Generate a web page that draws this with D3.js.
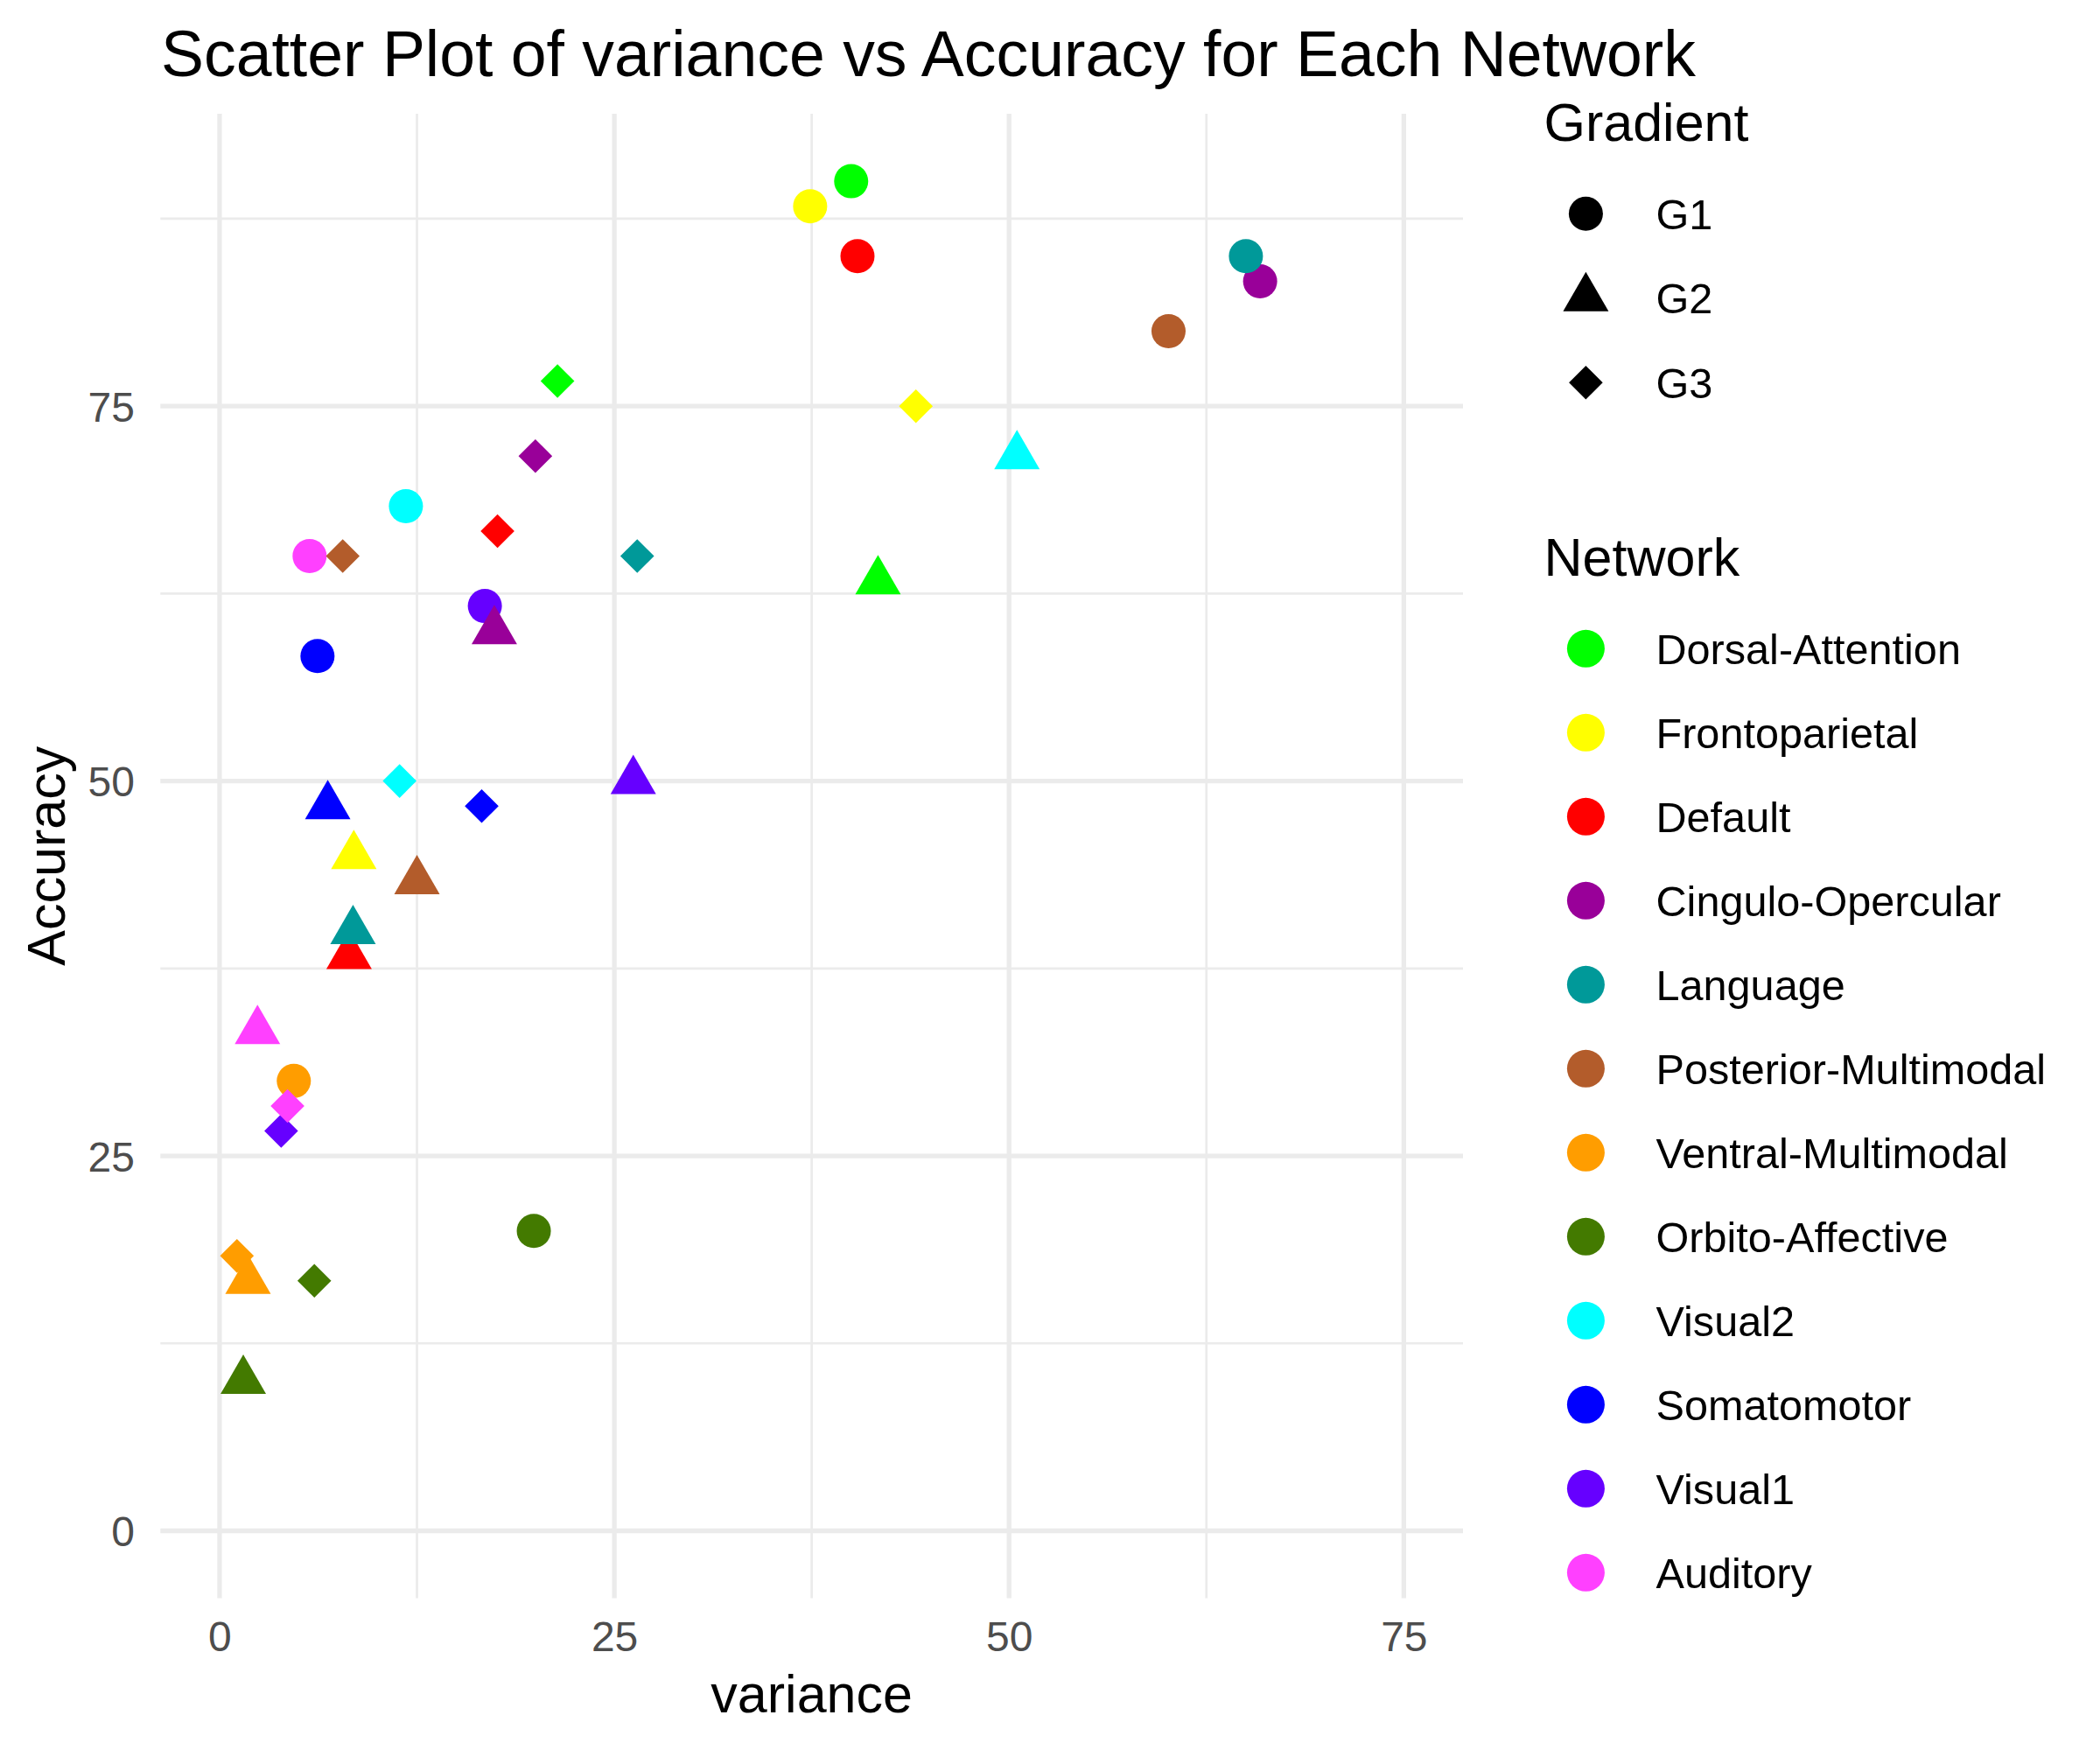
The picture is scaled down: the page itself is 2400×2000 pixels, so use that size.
<!DOCTYPE html>
<html>
<head>
<meta charset="utf-8">
<script src="https://cdn.jsdelivr.net/npm/d3@7"></script>
<style>
  html, body { margin: 0; padding: 0; background: #ffffff; }
  svg { display: block; }
  text { font-family: "Liberation Sans", Arial, Helvetica, sans-serif; }
</style>
</head>
<body>
<svg id="chart" width="2400" height="2000"></svg>
<script>
// ---------------- data ----------------
const networks = ["Dorsal-Attention", "Frontoparietal", "Default", "Cingulo-Opercular",
  "Language", "Posterior-Multimodal", "Ventral-Multimodal", "Orbito-Affective",
  "Visual2", "Somatomotor", "Visual1", "Auditory"];
const networkColors = ["#00FF00", "#FFFF00", "#FF0000", "#990099", "#009999", "#B35C2B",
  "#FF9D00", "#437A00", "#00FFFF", "#0000FF", "#6600FF", "#FF40FF"];
const gradients = ["G1", "G2", "G3"];

// variance / accuracy for each network, per gradient (same order as networks)
const varianceG1 = [40.0, 37.4, 40.4, 65.9, 65.0, 60.1, 4.7, 19.9, 11.8, 6.2, 16.8, 5.7];
const accuracyG1 = [90.0, 88.33, 85.0, 83.33, 85.0, 80.0, 30.0, 20.0, 68.33, 58.33, 61.67, 65.0];
const varianceG2 = [41.7, 8.5, 8.2, 17.4, 8.45, 12.5, 1.8, 1.5, 50.5, 6.85, 26.2, 2.4];
const accuracyG2 = [63.33, 45.0, 38.33, 60.0, 40.0, 43.33, 16.67, 10.0, 71.67, 48.33, 50.0, 33.33];
const varianceG3 = [21.4, 44.1, 17.6, 20.0, 26.45, 7.8, 1.1, 6.0, 11.4, 16.6, 3.9, 4.3];
const accuracyG3 = [76.67, 75.0, 66.67, 71.67, 65.0, 65.0, 18.33, 16.67, 50.0, 48.33, 26.67, 28.33];

const xTicks = [0, 25, 50, 75];
const yTicks = [0, 25, 50, 75];
const xMinor = [12.5, 37.5, 62.5];
const yMinor = [12.5, 37.5, 62.5, 87.5];

const titleText = "Scatter Plot of variance vs Accuracy for Each Network";
const xTitle = "variance";
const yTitle = "Accuracy";

// ---------------- build rows ----------------
const seriesX = [varianceG1, varianceG2, varianceG3];
const seriesY = [accuracyG1, accuracyG2, accuracyG3];
const rows = [];
gradients.forEach((g, gi) => {
  networks.forEach((n, ni) => {
    rows.push({ network: n, gradient: g, variance: seriesX[gi][ni], accuracy: seriesY[gi][ni] });
  });
});

// ---------------- layout ----------------
const svg = d3.select("#chart");
const panel = { left: 183.3, right: 1672, top: 130, bottom: 1826.6 };

const x = d3.scaleLinear().domain([-3.75, 78.75]).range([panel.left, panel.right]);
const y = d3.scaleLinear().domain([-4.5, 94.5]).range([panel.bottom, panel.top]);
const color = d3.scaleOrdinal().domain(networks).range(networkColors);

const diamond = {
  draw(ctx, size) {
    const r = Math.sqrt(size / 2);
    ctx.moveTo(0, -r); ctx.lineTo(r, 0); ctx.lineTo(0, r); ctx.lineTo(-r, 0); ctx.closePath();
  }
};
const shapeType = d3.scaleOrdinal().domain(gradients).range([d3.symbolCircle, d3.symbolTriangle, diamond]);
// sizes giving circle r≈19.5, triangle r≈30, diamond half-diag≈19.3
const shapeSize = d3.scaleOrdinal().domain(gradients).range([Math.PI * 19.5 * 19.5, 3 * Math.sqrt(3) * 15 * 15, 2 * 19.3 * 19.3]);

// ---------------- grid ----------------
const grid = svg.append("g");
grid.selectAll(".xminor").data(xMinor).enter().append("line")
  .attr("x1", d => x(d)).attr("x2", d => x(d))
  .attr("y1", panel.top).attr("y2", panel.bottom)
  .attr("stroke", "#EBEBEB").attr("stroke-width", 2.7);
grid.selectAll(".yminor").data(yMinor).enter().append("line")
  .attr("y1", d => y(d)).attr("y2", d => y(d))
  .attr("x1", panel.left).attr("x2", panel.right)
  .attr("stroke", "#EBEBEB").attr("stroke-width", 2.7);
grid.selectAll(".xmajor").data(xTicks).enter().append("line")
  .attr("x1", d => x(d)).attr("x2", d => x(d))
  .attr("y1", panel.top).attr("y2", panel.bottom)
  .attr("stroke", "#EBEBEB").attr("stroke-width", 5.3);
grid.selectAll(".ymajor").data(yTicks).enter().append("line")
  .attr("y1", d => y(d)).attr("y2", d => y(d))
  .attr("x1", panel.left).attr("x2", panel.right)
  .attr("stroke", "#EBEBEB").attr("stroke-width", 5.3);

// ---------------- axes (tick labels via d3 axis) ----------------
const xAxis = svg.append("g").attr("transform", `translate(0,${panel.bottom})`)
  .call(d3.axisBottom(x).tickValues(xTicks).tickSize(0).tickPadding(0));
xAxis.select(".domain").remove();
xAxis.selectAll("text")
  .attr("y", 1887.3 - panel.bottom).attr("dy", null)
  .attr("font-size", 48).attr("fill", "#4D4D4D")
  .attr("font-family", "Liberation Sans, Arial, sans-serif");

const yAxis = svg.append("g").attr("transform", `translate(${panel.left},0)`)
  .call(d3.axisLeft(y).tickValues(yTicks).tickSize(0).tickPadding(0));
yAxis.select(".domain").remove();
yAxis.selectAll("text")
  .attr("x", 154 - panel.left).attr("dy", "0.358em")
  .attr("font-size", 48).attr("fill", "#4D4D4D")
  .attr("font-family", "Liberation Sans, Arial, sans-serif");

// ---------------- points ----------------
svg.append("g").selectAll("path").data(rows).enter().append("path")
  .attr("transform", d => `translate(${x(d.variance)},${y(d.accuracy)})`)
  .attr("d", d => d3.symbol().type(shapeType(d.gradient)).size(shapeSize(d.gradient))())
  .attr("fill", d => color(d.network));

// ---------------- titles ----------------
svg.append("text").attr("x", 184).attr("y", 87)
  .attr("font-size", 73.4).attr("fill", "#000").text(titleText);

svg.append("text").attr("x", (panel.left + panel.right) / 2).attr("y", 1957)
  .attr("text-anchor", "middle").attr("font-size", 61).attr("fill", "#000").text(xTitle);

svg.append("text")
  .attr("transform", `translate(74,${(panel.top + panel.bottom) / 2}) rotate(-90)`)
  .attr("text-anchor", "middle").attr("font-size", 61).attr("fill", "#000").text(yTitle);

// ---------------- legends ----------------
const legendKeyX = 1812.4, legendLabelX = 1892.5, legendTitleX = 1764.5;

svg.append("text").attr("x", legendTitleX).attr("y", 161)
  .attr("font-size", 61).attr("fill", "#000").text("Gradient");
const gLeg = svg.append("g").selectAll("g").data(gradients).enter().append("g")
  .attr("transform", (d, i) => `translate(0,${244.3 + i * 96.5})`);
gLeg.append("path")
  .attr("transform", `translate(${legendKeyX},0)`)
  .attr("d", d => d3.symbol().type(shapeType(d)).size(shapeSize(d))())
  .attr("fill", "#000");
gLeg.append("text").attr("x", legendLabelX).attr("y", 0).attr("dy", "0.358em")
  .attr("font-size", 48.6).attr("fill", "#000").text(d => d);

svg.append("text").attr("x", legendTitleX).attr("y", 657.5)
  .attr("font-size", 61).attr("fill", "#000").text("Network");
const nLeg = svg.append("g").selectAll("g").data(networks).enter().append("g")
  .attr("transform", (d, i) => `translate(0,${741.3 + i * 96.0})`);
nLeg.append("circle").attr("cx", legendKeyX).attr("cy", 0).attr("r", 21.5)
  .attr("fill", d => color(d));
nLeg.append("text").attr("x", legendLabelX).attr("y", 0).attr("dy", "0.358em")
  .attr("font-size", 48.6).attr("fill", "#000").text(d => d);
</script>
</body>
</html>
